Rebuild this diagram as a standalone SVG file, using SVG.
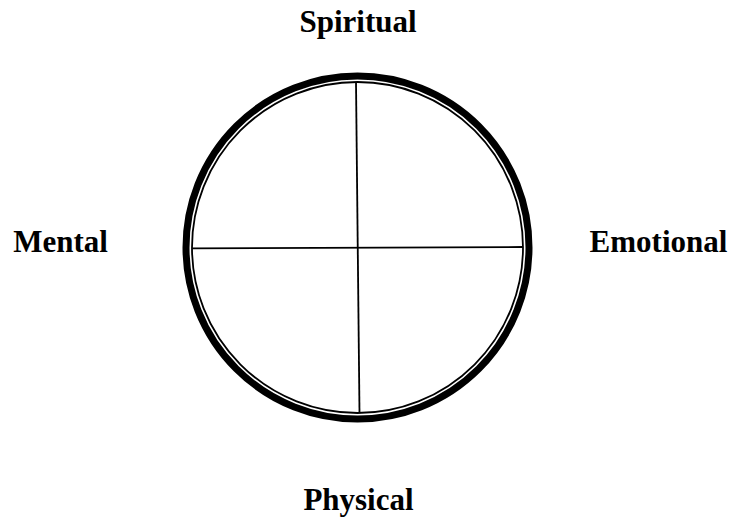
<svg xmlns="http://www.w3.org/2000/svg" width="732" height="519" viewBox="0 0 732 519">
<style>
.lbl{font-family:"Liberation Serif","Times New Roman",serif;font-weight:bold;font-size:31px;fill:#000;text-anchor:middle}
.ln{stroke:#000;stroke-width:1.8;fill:none}
</style>
<rect width="732" height="519" fill="#fff"/>
<g id="wheel">
<circle cx="357.5" cy="247.5" r="171.5" fill="none" stroke="#000" stroke-width="7"/>
<circle cx="357.5" cy="247.5" r="165.5" fill="none" stroke="#000" stroke-width="1.8"/>
</g>
<g id="connectors">
<line class="ln" x1="356" y1="82" x2="359.5" y2="413"/>
<line class="ln" x1="192" y1="248.3" x2="523" y2="247"/>
</g>
<g id="spiritual"><text class="lbl" x="358" y="32">Spiritual</text></g>
<g id="mental"><text class="lbl" x="60.5" y="252">Mental</text></g>
<g id="emotional"><text class="lbl" x="658.5" y="252">Emotional</text></g>
<g id="physical"><text class="lbl" x="358.5" y="510">Physical</text></g>
</svg>
